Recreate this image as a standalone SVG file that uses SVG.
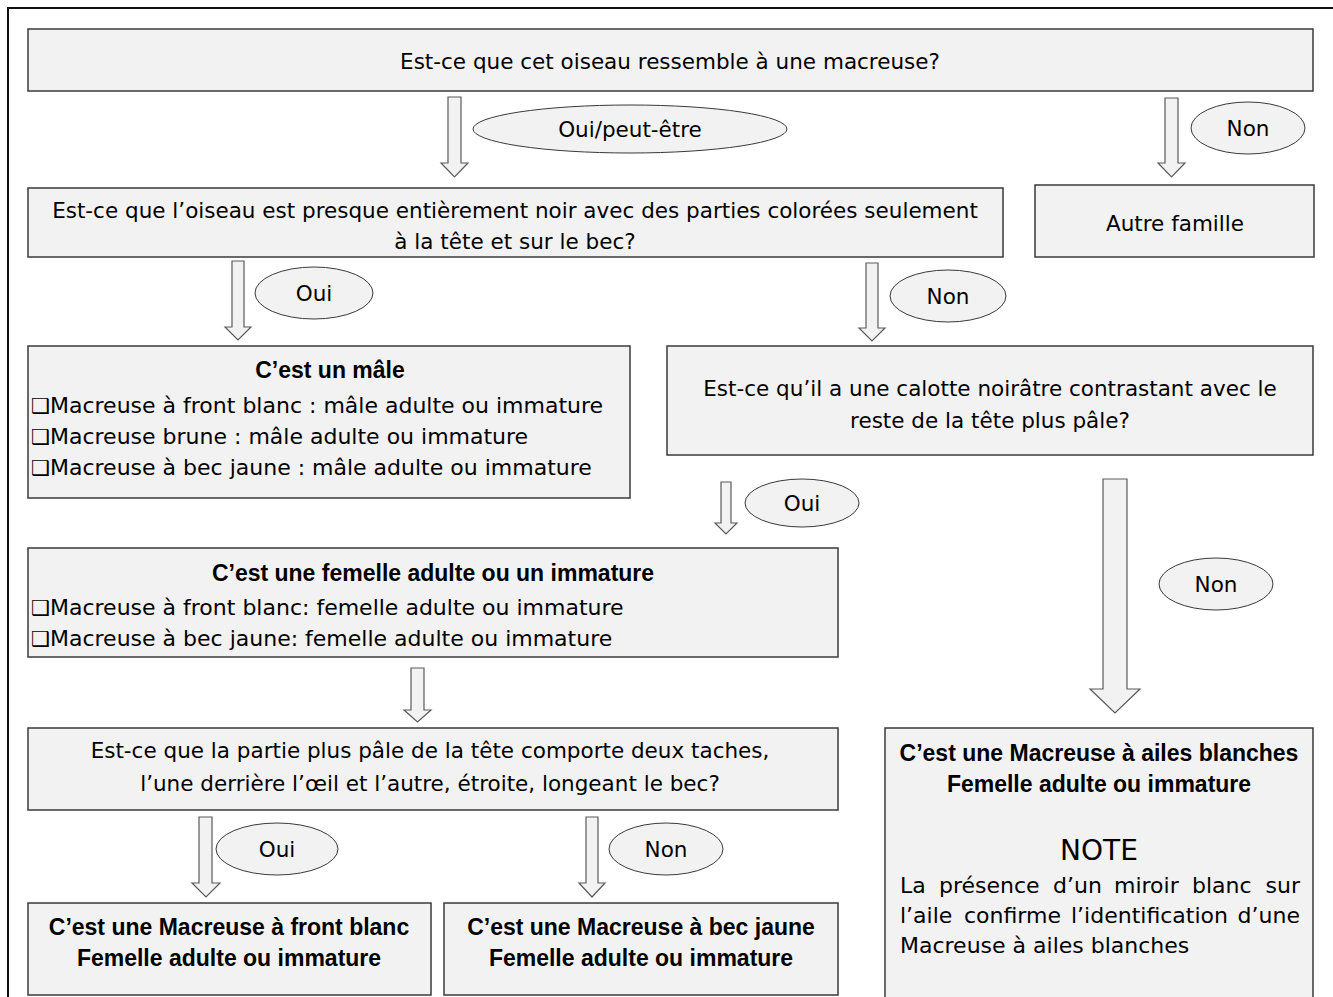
<svg xmlns="http://www.w3.org/2000/svg" width="1333" height="997" viewBox="0 0 1333 997">
<style>
.box{fill:#f2f2f2;stroke:#3a3a3a;stroke-width:1.5}
.ell{fill:#f2f2f2;stroke:#3a3a3a;stroke-width:1}
.arr{fill:#f2f2f2;stroke:#5a5a5a;stroke-width:1.2;stroke-linejoin:miter}
.t{font-family:"DejaVu Sans","Liberation Sans",sans-serif;font-size:21.5px;fill:#000;text-anchor:middle}
.tl{font-family:"DejaVu Sans","Liberation Sans",sans-serif;font-size:22px;fill:#000}
.b{font-family:"Liberation Sans",Arial,sans-serif;font-size:23px;font-weight:bold;fill:#000;text-anchor:middle}
.cb{font-family:"DejaVu Sans",sans-serif;font-size:21px;fill:#000}
</style>
<rect width="1333" height="997" fill="#fff"/>
<path d="M8,997 V8 H1333" fill="none" stroke="#111" stroke-width="2"/>

<g id="connectors">
  <path class="arr" d="M448,97 H461 V163 H468 L454.5,177 L441,163 H448 Z"/>
  <path class="arr" d="M1165,98 H1178 V163 H1185 L1171.5,177 L1158,163 H1165 Z"/>
  <path class="arr" d="M232,261 H244 V327 H251 L238,340 L225,327 H232 Z"/>
  <path class="arr" d="M866,263 H878 V328 H885 L872,341 L859,328 H866 Z"/>
  <path class="arr" d="M721,482 H731 V523 H737 L726,534 L715,523 H721 Z"/>
  <path class="arr" d="M411,668 H424 V710 H431 L417.5,722 L404,710 H411 Z"/>
  <path class="arr" d="M1103,479 H1127 V689 H1140 L1115,713 L1090,689 H1103 Z"/>
  <path class="arr" d="M199,817 H212 V883 H220 L206,897 L192,883 H199 Z"/>
  <path class="arr" d="M586,817 H598 V883 H605 L592,897 L579,883 H586 Z"/>
</g>

<g id="label-ouipeutetre"><ellipse class="ell" cx="630" cy="129" rx="157" ry="24"/><text class="t" x="630" y="137">Oui/peut-être</text></g>
<g id="label-non1"><ellipse class="ell" cx="1248" cy="128" rx="57" ry="26"/><text class="t" x="1248" y="136">Non</text></g>
<g id="label-oui1"><ellipse class="ell" cx="314" cy="293" rx="59" ry="26"/><text class="t" x="314" y="301">Oui</text></g>
<g id="label-non2"><ellipse class="ell" cx="948" cy="296" rx="58" ry="26"/><text class="t" x="948" y="304">Non</text></g>
<g id="label-oui2"><ellipse class="ell" cx="802" cy="503" rx="57" ry="24"/><text class="t" x="802" y="511">Oui</text></g>
<g id="label-non3"><ellipse class="ell" cx="1216" cy="584" rx="57" ry="26"/><text class="t" x="1216" y="592">Non</text></g>
<g id="label-oui3"><ellipse class="ell" cx="277" cy="849" rx="61" ry="26"/><text class="t" x="277" y="857">Oui</text></g>
<g id="label-non4"><ellipse class="ell" cx="666" cy="849" rx="57" ry="26"/><text class="t" x="666" y="857">Non</text></g>

<g id="q1"><rect class="box" x="28" y="29" width="1285" height="62"/><text class="t" x="670" y="69">Est-ce que cet oiseau ressemble à une macreuse?</text></g>
<g id="q2"><rect class="box" x="28" y="188" width="975" height="69"/>
  <text class="t" x="515" y="218">Est-ce que l’oiseau est presque entièrement noir avec des parties colorées seulement</text>
  <text class="t" x="515" y="249">à la tête et sur le bec?</text></g>
<g id="autre"><rect class="box" x="1035" y="185" width="279" height="72"/><text class="t" x="1175" y="231">Autre famille</text></g>
<g id="male"><rect class="box" x="28" y="346" width="602" height="152"/>
  <text class="b" x="330" y="378">C’est un mâle</text>
  <text class="cb" x="31" y="413">❑</text><text class="tl" x="50" y="413">Macreuse à front blanc : mâle adulte ou immature</text>
  <text class="cb" x="31" y="444">❑</text><text class="tl" x="50" y="444">Macreuse brune : mâle adulte ou immature</text>
  <text class="cb" x="31" y="475">❑</text><text class="tl" x="50" y="475">Macreuse à bec jaune : mâle adulte ou immature</text></g>
<g id="calotte"><rect class="box" x="667" y="346" width="646" height="109"/>
  <text class="t" x="990" y="396">Est-ce qu’il a une calotte noirâtre contrastant avec le</text>
  <text class="t" x="990" y="428">reste de la tête plus pâle?</text></g>
<g id="femelle"><rect class="box" x="28" y="548" width="810" height="109"/>
  <text class="b" x="433" y="581">C’est une femelle adulte ou un immature</text>
  <text class="cb" x="31" y="615">❑</text><text class="tl" x="50" y="615">Macreuse à front blanc: femelle adulte ou immature</text>
  <text class="cb" x="31" y="646">❑</text><text class="tl" x="50" y="646">Macreuse à bec jaune: femelle adulte ou immature</text></g>
<g id="partie"><rect class="box" x="28" y="728" width="810" height="82"/>
  <text class="t" x="430" y="758">Est-ce que la partie plus pâle de la tête comporte deux taches,</text>
  <text class="t" x="430" y="791">l’une derrière l’œil et l’autre, étroite, longeant le bec?</text></g>
<g id="frontblanc"><rect class="box" x="28" y="903" width="403" height="92"/>
  <text class="b" x="229" y="935">C’est une Macreuse à front blanc</text>
  <text class="b" x="229" y="966">Femelle adulte ou immature</text></g>
<g id="becjaune"><rect class="box" x="444" y="903" width="394" height="92"/>
  <text class="b" x="641" y="935">C’est une Macreuse à bec jaune</text>
  <text class="b" x="641" y="966">Femelle adulte ou immature</text></g>
<g id="ailes"><path class="box" d="M885,1000 V728 H1313 V1000"/>
  <text class="b" x="1099" y="761">C’est une Macreuse à ailes blanches</text>
  <text class="b" x="1099" y="792">Femelle adulte ou immature</text>
  <text class="t" x="1099" y="860" style="font-size:28px">NOTE</text>
  <text class="tl" y="893"><tspan x="900">La</tspan><tspan x="939">présence</tspan><tspan x="1053">d’un</tspan><tspan x="1114">miroir</tspan><tspan x="1192">blanc</tspan><tspan x="1300" text-anchor="end">sur</tspan></text>
  <text class="tl" y="923"><tspan x="900">l’aile</tspan><tspan x="964">confirme</tspan><tspan x="1071">l’identification</tspan><tspan x="1300" text-anchor="end">d’une</tspan></text>
  <text class="tl" x="900" y="953">Macreuse à ailes blanches</text></g>
</svg>
